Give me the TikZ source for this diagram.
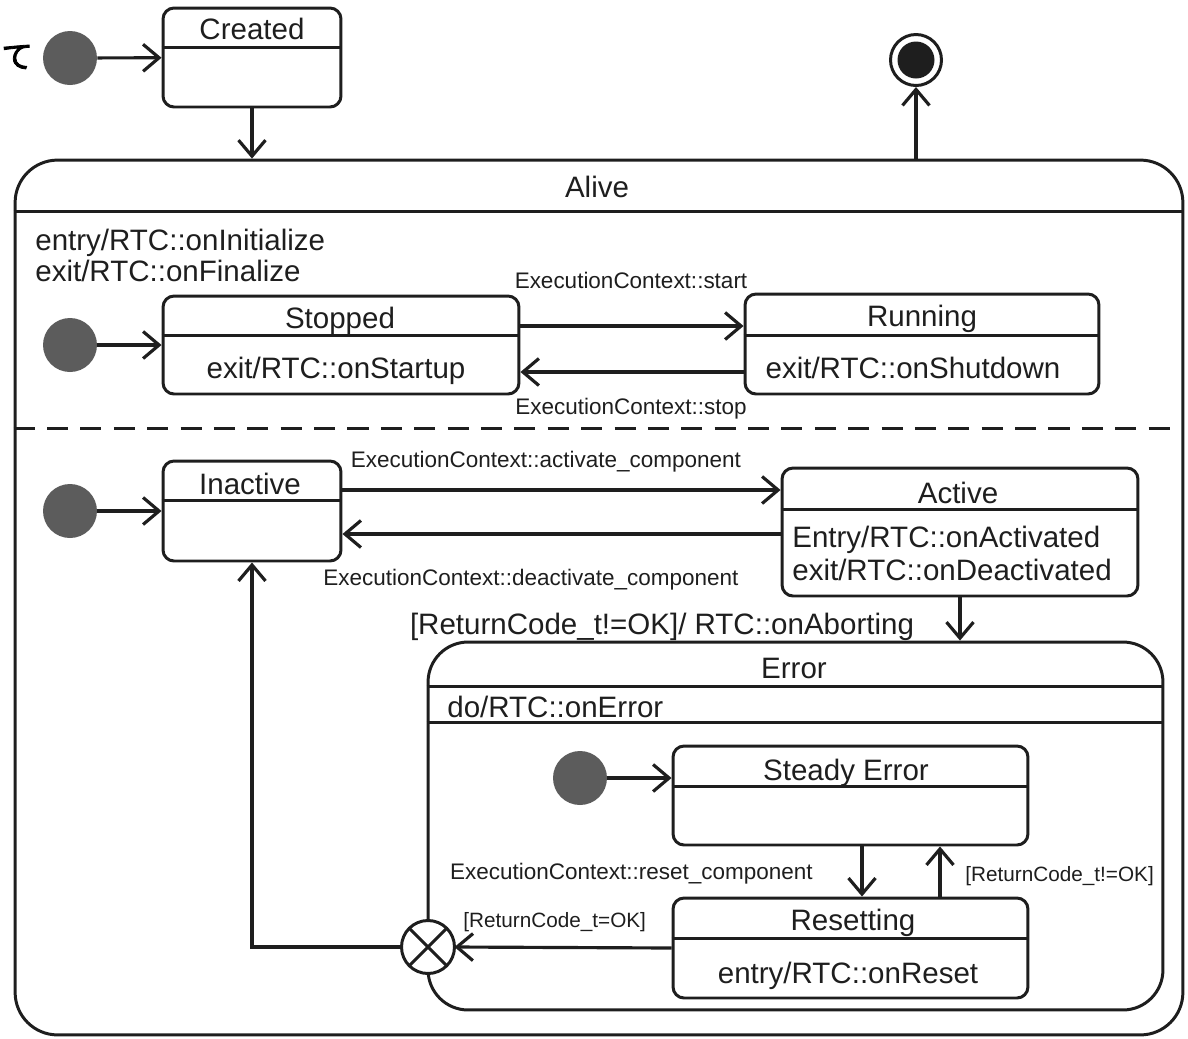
\documentclass[tikz,border=0pt]{standalone}
\usepackage{fontspec}
\setmainfont{Liberation Sans}
\newfontfamily\jpfont[AutoFakeBold=2.5]{Noto Sans CJK JP}
\usetikzlibrary{arrows.meta, positioning}
\definecolor{umlblack}{RGB}{30,30,30}
\definecolor{umlgray}{RGB}{92,92,92}
\tikzset{
    % State styles
    simple state/.style={
        draw=umlblack,
        line width=1.7pt,
        rectangle,
        rounded corners=0.22cm,
        inner sep=0pt
    },
    composite state/.style={
        simple state,
        rounded corners=0.85cm
    },
    init node/.style={
        circle,
        fill=umlgray,
        minimum size=1.08cm,
        inner sep=0pt
    },
    final node/.style={
        circle,
        draw=umlblack,
        line width=1.7pt,
        minimum size=1.02cm,
        inner sep=0pt,
        path picture={\fill[umlblack] (path picture bounding box.center) circle (0.37cm);}
    },
    exit node/.style={
        circle,
        draw=umlblack,
        fill=white,
        line width=1.7pt,
        minimum size=1.06cm,
        inner sep=0pt,
        outer sep=0pt
    },
    % Line styles
    comp line/.style={
        draw=umlblack,
        line width=1.7pt
    },
    trans/.style={
        -{Straight Barb[length=3.2mm,width=5.4mm]},
        line width=1.8pt,
        umlblack
    },
    % Text styles
    big text/.style={
        font=\fontsize{16.8}{20}\selectfont,
        text=umlblack,
        inner sep=0pt
    },
    small text/.style={
        font=\fontsize{12.8}{15}\selectfont,
        text=umlblack,
        inner sep=0pt
    },
    guard text/.style={
        font=\fontsize{11.8}{14}\selectfont,
        text=umlblack,
        inner sep=0pt
    }
}

\begin{document}
\begin{tikzpicture}[x=0.02cm, y=-0.02cm]
    \useasboundingbox (0,0) rectangle (1188,1039);

    % States
    \node[simple state, minimum width=3.56cm, minimum height=1.98cm] (created) at (252,57.5) {};
    \node[composite state, minimum width=23.36cm, minimum height=17.5cm] (alive) at (599,597.5) {};
    \node[simple state, minimum width=7.12cm, minimum height=1.96cm] (stopped) at (341,345) {};
    \node[simple state, minimum width=7.08cm, minimum height=2cm] (running) at (922,344) {};
    \node[simple state, minimum width=3.56cm, minimum height=2cm] (inactive) at (252,511) {};
    \node[simple state, minimum width=7.12cm, minimum height=2.56cm] (active) at (960,532) {};
    \node[composite state, minimum width=14.7cm, minimum height=7.36cm, rounded corners=0.8cm] (error) at (795.5,826) {};
    \node[simple state, minimum width=7.1cm, minimum height=1.98cm] (steady) at (850.5,795.5) {};
    \node[simple state, minimum width=7.1cm, minimum height=2cm] (resetting) at (850.5,948) {};

    % Compartment lines
    \foreach \n/\y in {created/47, alive/211, stopped/335, running/335, inactive/500,
                       active/509, error/686, error/722, steady/786, resetting/938} {
        \draw[comp line] (\n.west |- 0,\y) -- (\n.east |- 0,\y);
    }
    \draw[comp line, dash pattern=on 12pt off 7pt] (alive.west |- 0,428) -- (alive.east |- 0,428);

    % Pseudo states
    \foreach \n/\x/\y in {init0/70/58, init1/70/345, init2/70/511, init3/580/778} {
        \node[init node] (\n) at (\x,\y) {};
    }
    \node[final node] (final) at (916,60) {};
    \node[exit node] (exitpt) at (428,947) {};
    \draw[comp line] (exitpt.north east) -- (exitpt.south west);
    \draw[comp line] (exitpt.north west) -- (exitpt.south east);

    % State texts
    \node[big text, anchor=base] (createdlbl) at (252,39) {Created};
    \node[big text, anchor=base] (alivelbl) at (597,197) {Alive};
    \node[big text, anchor=base west] (aliveentry) at (35,250) {entry/RTC::onInitialize};
    \node[big text, anchor=base west] (aliveexit) at (35,281) {exit/RTC::onFinalize};
    \node[big text, anchor=base] (stoppedlbl) at (340,328) {Stopped};
    \node[big text, anchor=base] (stoppedexit) at (336,378) {exit/RTC::onStartup};
    \node[big text, anchor=base] (runninglbl) at (922,326) {Running};
    \node[big text, anchor=base] (runningexit) at (913,378) {exit/RTC::onShutdown};
    \node[big text, anchor=base] (inactivelbl) at (250,494) {Inactive};
    \node[big text, anchor=base] (activelbl) at (958,503) {Active};
    \node[big text, anchor=base west] (activeentry) at (792,547) {Entry/RTC::onActivated};
    \node[big text, anchor=base west] (activeexit) at (792,580) {exit/RTC::onDeactivated};
    \node[big text, anchor=base] (errorlbl) at (794,678) {Error};
    \node[big text, anchor=base west] (errordo) at (447,717) {do/RTC::onError};
    \node[big text, anchor=base] (steadylbl) at (846,780) {Steady Error};
    \node[big text, anchor=base] (resettinglbl) at (853,930) {Resetting};
    \node[big text, anchor=base] (resettingentry) at (848,983) {entry/RTC::onReset};
    \node[anchor=west, inner sep=0pt, font=\jpfont\bfseries\fontsize{18}{22}\selectfont, text=black] (jpchar) at (1,57) {て};

    % Connections
    \draw[trans] (init0) -- (created);
    \draw[trans] (created.south) -- (created.south |- alive.north);
    \draw[trans] (final.south |- alive.north) -- (final.south);
    \draw[trans] (init1) -- (stopped);
    \draw[trans] (stopped.east |- 0,326) -- (running.west |- 0,326);
    \draw[trans] (running.west |- 0,372) -- (stopped.east |- 0,372);
    \draw[trans] (init2) -- (inactive);
    \draw[trans] (inactive.east |- 0,490) -- (active.west |- 0,490);
    \draw[trans] (active.west |- 0,534) -- (inactive.east |- 0,534);
    \draw[trans] (active.south) -- (active.south |- error.north);
    \draw[trans] (init3) -- (init3 -| steady.west);
    \draw[trans] (steady.south -| 862,0) -- (resetting.north -| 862,0);
    \draw[trans] (resetting.north -| 940,0) -- (steady.south -| 940,0);
    \draw[trans] (resetting.west) -- (exitpt.east);
    \draw[trans] (exitpt.west) -| (inactive.south);

    % Transition labels
    \node[small text, anchor=base] (startlbl) at (631,288) {ExecutionContext::start};
    \node[small text, anchor=base] (stoplbl) at (631,414) {ExecutionContext::stop};
    \node[small text, anchor=base] (activatelbl) at (546,467) {ExecutionContext::activate\_component};
    \node[small text, anchor=base] (deactivatelbl) at (531,585) {ExecutionContext::deactivate\_component};
    \node[big text, anchor=base] (abortlbl) at (662,634) {[ReturnCode\_t!=OK]/ RTC::onAborting};
    \node[small text, anchor=base east] (resetlbl) at (813,879) {ExecutionContext::reset\_component};
    \node[guard text, anchor=base west] (retrylbl) at (965,881) {[ReturnCode\_t!=OK]};
    \node[guard text, anchor=base west] (oklbl) at (463,927) {[ReturnCode\_t=OK]};
\end{tikzpicture}
\end{document}
